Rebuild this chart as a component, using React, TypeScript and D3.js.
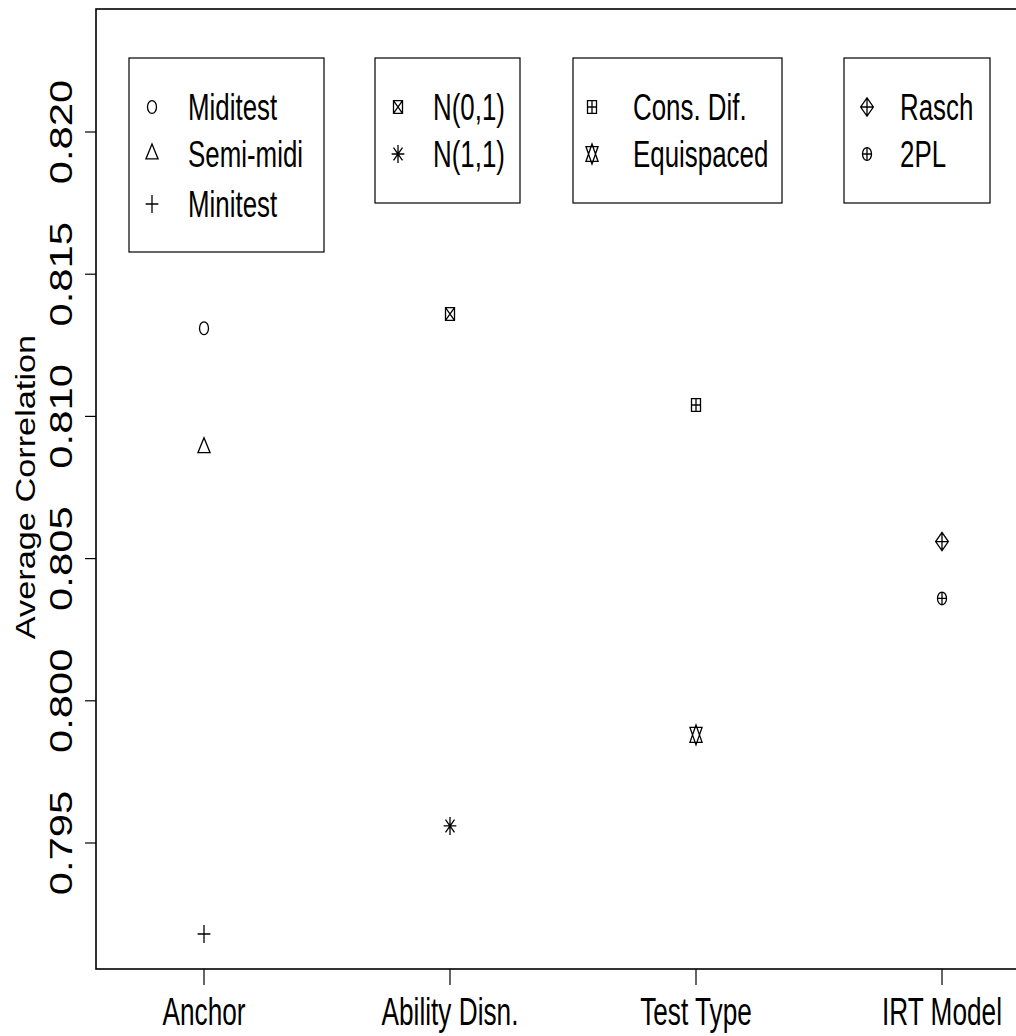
import React from 'react';
import * as d3 from 'd3';

// factor levels and their average correlations
const groups = ['Anchor', 'Ability Disn.', 'Test Type', 'IRT Model'];

const anchorLevels = ['Miditest', 'Semi-midi', 'Minitest'];
const anchorValues = [0.8131, 0.8089, 0.7918];
const anchorPch = [1, 2, 3];

const abilityLevels = ['N(0,1)', 'N(1,1)'];
const abilityValues = [0.8136, 0.7956];
const abilityPch = [7, 8];

const testLevels = ['Cons. Dif.', 'Equispaced'];
const testValues = [0.8104, 0.7988];
const testPch = [12, 11];

const irtLevels = ['Rasch', '2PL'];
const irtValues = [0.8056, 0.8036];
const irtPch = [9, 10];

const yTicks = [0.795, 0.8, 0.805, 0.81, 0.815, 0.82];

const series = [
  { levels: anchorLevels, values: anchorValues, pch: anchorPch },
  { levels: abilityLevels, values: abilityValues, pch: abilityPch },
  { levels: testLevels, values: testValues, pch: testPch },
  { levels: irtLevels, values: irtValues, pch: irtPch },
];

// legend boxes [left, right, top, bottom]
const legendBoxes = [
  [129, 324, 58, 252],
  [375, 520, 58, 203],
  [573, 782, 58, 203],
  [844, 990, 58, 203],
];
const legendSymX = [152, 398, 592, 867];
const legendTextX = [188, 433, 633, 900];
const legendRowY = [107, 154, 204];

const FONT = '"Liberation Sans", Arial, Helvetica, sans-serif';
const SY = 1.42; // vertical stretch of the original device

const Marker = ({ pch, x, y }: { pch: number; x: number; y: number }) => {
  const R = 4.5;
  const s2 = Math.SQRT2 * R;
  const TRC0 = Math.sqrt((4 * Math.PI) / (3 * Math.sqrt(3)));
  const TRC1 = (TRC0 * Math.sqrt(3)) / 2;
  const TRC2 = TRC0 / 2;
  const common = {
    fill: 'none',
    stroke: '#000',
    strokeWidth: 1.3,
    vectorEffect: 'non-scaling-stroke' as any,
  };
  const line = d3.line();
  let body: React.ReactNode = null;
  if (pch === 1) {
    body = <circle r={R} {...common} />;
  } else if (pch === 2) {
    const r = TRC0 * R, xc = TRC1 * R, yc = TRC2 * R;
    body = <path d={line([[0, -r], [xc, yc], [-xc, yc]])! + 'Z'} {...common} />;
  } else if (pch === 3) {
    body = <path d={`M${-s2},0H${s2}M0,${-s2}V${s2}`} {...common} />;
  } else if (pch === 7) {
    body = <path d={`M${-R},${-R}H${R}V${R}H${-R}ZM${-R},${-R}L${R},${R}M${-R},${R}L${R},${-R}`} {...common} />;
  } else if (pch === 8) {
    body = <path d={`M${-R},${-R}L${R},${R}M${-R},${R}L${R},${-R}M${-s2},0H${s2}M0,${-s2}V${s2}`} {...common} />;
  } else if (pch === 9) {
    body = <path d={`M0,${-s2}L${s2},0L0,${s2}L${-s2},0ZM${-s2},0H${s2}M0,${-s2}V${s2}`} {...common} />;
  } else if (pch === 10) {
    body = (
      <g>
        <circle r={R} {...common} />
        <path d={`M${-R},0H${R}M0,${-R}V${R}`} {...common} />
      </g>
    );
  } else if (pch === 11) {
    const r = TRC0 * R;
    const yc = 0.5 * (TRC2 * R + r);
    const xc = TRC1 * R;
    body = (
      <path
        d={line([[0, -r], [xc, yc], [-xc, yc]])! + 'Z' + line([[0, r], [xc, -yc], [-xc, -yc]])! + 'Z'}
        {...common}
      />
    );
  } else if (pch === 12) {
    body = <path d={`M${-R},${-R}H${R}V${R}H${-R}ZM${-R},0H${R}M0,${-R}V${R}`} {...common} />;
  }
  return <g transform={`translate(${x},${y}) scale(1,${SY})`}>{body}</g>;
};

export default function App() {
  const width = 1016;
  const height = 1036;
  const box = { left: 96, right: 1017, top: 9, bottom: 969 };

  const x = d3.scaleLinear().domain([1, 4]).range([204, 942]);
  const y = d3.scaleLinear().domain([0.795, 0.82]).range([843, 132]);
  const fmt = d3.format('.3f');

  return (
    <div style={{ position: 'absolute', left: 0, top: 0 }}>
      <svg width={width} height={height} style={{ display: 'block', background: '#fff' }}>
        {/* plot frame */}
        <rect
          x={box.left}
          y={box.top}
          width={box.right - box.left}
          height={box.bottom - box.top}
          fill="none"
          stroke="#000"
          strokeWidth={1.6}
        />

        {/* y axis */}
        {yTicks.map((t) => (
          <g key={t}>
            <line x1={85} x2={box.left} y1={y(t)} y2={y(t)} stroke="#000" strokeWidth={1.2} />
            <text
              transform={`translate(72,${y(t)}) rotate(-90) scale(1.37,1)`}
              textAnchor="middle"
              fontFamily={FONT}
              fontSize={30.5}
            >
              {fmt(t)}
            </text>
          </g>
        ))}
        <text
          transform={`translate(35,487) rotate(-90) scale(1.27,1)`}
          textAnchor="middle"
          fontFamily={FONT}
          fontSize={27}
        >
          Average Correlation
        </text>

        {/* x axis */}
        {groups.map((g, i) => (
          <g key={g}>
            <line x1={x(i + 1)} x2={x(i + 1)} y1={box.bottom} y2={985} stroke="#000" strokeWidth={1.2} />
            <text
              transform={`translate(${x(i + 1)},1025) scale(0.69,1)`}
              textAnchor="middle"
              fontFamily={FONT}
              fontSize={38}
            >
              {g}
            </text>
          </g>
        ))}

        {/* points */}
        {series.map((s, i) =>
          s.values.map((v, j) => <Marker key={`${i}-${j}`} pch={s.pch[j]} x={x(i + 1)} y={y(v)} />)
        )}

        {/* legends */}
        {series.map((s, i) => {
          const [l, r, t, b] = legendBoxes[i];
          return (
            <g key={`leg${i}`}>
              <rect x={l} y={t} width={r - l} height={b - t} fill="#fff" stroke="#000" strokeWidth={1.2} />
              {s.levels.map((lev, j) => (
                <g key={lev}>
                  <Marker pch={s.pch[j]} x={legendSymX[i]} y={legendRowY[j]} />
                  <text
                    transform={`translate(${legendTextX[i]},${legendRowY[j] + 13}) scale(0.7,1)`}
                    fontFamily={FONT}
                    fontSize={37}
                  >
                    {lev}
                  </text>
                </g>
              ))}
            </g>
          );
        })}
      </svg>
    </div>
  );
}
